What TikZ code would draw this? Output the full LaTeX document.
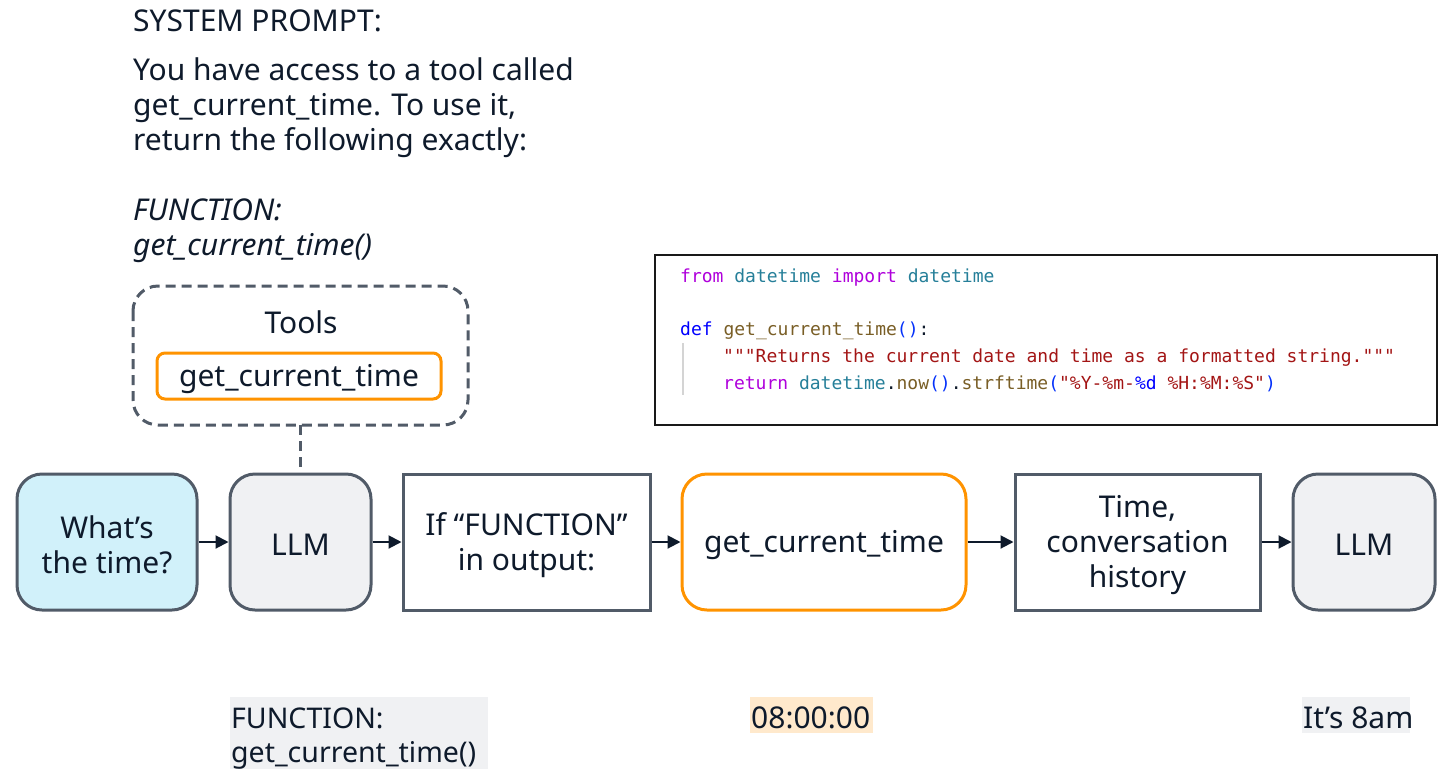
\documentclass[tikz,border=0pt]{standalone}
\usepackage{fontspec}
\setmainfont{Noto Sans}
\newfontfamily\codefont{DejaVu Sans Mono}
\usetikzlibrary{arrows.meta}

\definecolor{ink}{HTML}{0E1A2B}
\definecolor{edge}{HTML}{515B68}
\definecolor{cyanfill}{HTML}{D1F1FA}
\definecolor{grayfill}{HTML}{F0F1F3}
\definecolor{orangeedge}{HTML}{FF9300}
\definecolor{peach}{HTML}{FFE9CC}
\definecolor{codemag}{HTML}{AF00DB}
\definecolor{codeteal}{HTML}{267F99}
\definecolor{codeblue}{HTML}{0000FF}
\definecolor{codefunc}{HTML}{795E26}
\definecolor{codebrace}{HTML}{0431FA}
\definecolor{codestr}{HTML}{A31515}
\definecolor{guide}{HTML}{D4D4D4}

\newcommand\cMag[1]{\textcolor{codemag}{#1}}
\newcommand\cTeal[1]{\textcolor{codeteal}{#1}}
\newcommand\cBlue[1]{\textcolor{codeblue}{#1}}
\newcommand\cFunc[1]{\textcolor{codefunc}{#1}}
\newcommand\cBrace[1]{\textcolor{codebrace}{#1}}
\newcommand\cStr[1]{\textcolor{codestr}{#1}}

\tikzset{
  every node/.style={text=ink, font=\fontsize{30}{35}\selectfont},
  flowbox/.style={draw=edge, line width=3pt, minimum height=136pt, inner sep=0pt},
  roundbox/.style={flowbox, rounded corners=25pt},
  boxtext/.style={align=center, inner sep=0pt},
  textline/.style={anchor=base west, inner sep=0pt},
  smallline/.style={textline, font=\fontsize{28.5}{34}\selectfont},
  codeline/.style={anchor=base west, inner sep=0pt, font=\codefont\fontsize{18}{22}\selectfont},
  flow/.style={draw=ink, line width=2pt, -{Triangle[length=13pt,width=13pt]}},
  backdrop/.style={anchor=north west, inner sep=0pt}
}

\begin{document}
\begin{tikzpicture}[x=1pt, y=-1pt]
\useasboundingbox (0,0) rectangle (1450,769);

% system prompt text
\node[textline] (sp0) at (133,31) {SYSTEM PROMPT:};
\node[textline] (sp1) at (133,80) {You have access to a tool called};
\node[textline] (sp2) at (133,115) {get\_current\_time. To use it,};
\node[textline] (sp3) at (133,150) {return the following exactly:};
\node[textline] (sp4) at (133,220) {\itshape FUNCTION:};
\node[textline] (sp5) at (133,255) {\itshape get\_current\_time()};

% tool registry
\draw[draw=edge, line width=3pt, dash pattern=on 10pt off 6pt, rounded corners=25pt]
  (133,286) rectangle (468,425);
\coordinate (toolsbottom) at (300.5,425);
\node (toolstitle) at (301,322) {Tools};
\node[draw=orangeedge, line width=3pt, rounded corners=8pt, minimum width=284pt,
      minimum height=46pt, inner sep=0pt] (toolitem) at (299,376) {};
\node[boxtext] (toolitemtext) at ([yshift=-3pt]toolitem.center) {get\_current\_time};

% code listing
\draw[draw=black!90, line width=1.5pt] (655,255) rectangle (1437,425);
\draw[guide, line width=1.5pt] (683,343) -- (683,395);
\node[codeline] (c1) at (680,282) {\cMag{from} \cTeal{datetime} \cMag{import} \cTeal{datetime}};
\node[codeline] (c2) at (680,335) {\cBlue{def} \cFunc{get\_current\_time}\cBrace{()}:};
\node[codeline] (c3) at (723,362) {\cStr{"""Returns the current date and time as a formatted string."""}};
\node[codeline] (c4) at (723,389) {\cMag{return} \cTeal{datetime}.\cFunc{now}\cBrace{()}.\cFunc{strftime}\cBrace{(}\cStr{"\%Y-\%m-}\cBlue{\%d} \cStr{\%H:\%M:\%S"}\cBrace{)}};

% main flow boxes
\node[roundbox, fill=cyanfill, minimum width=180pt] (ask) at (107,542) {};
\node[roundbox, fill=grayfill, minimum width=141pt] (llma) at (300.5,542) {};
\node[flowbox, fill=white, minimum width=247pt] (check) at (526.5,542) {};
\node[roundbox, draw=orangeedge, fill=white, minimum width=284pt] (call) at (824,542) {};
\node[flowbox, fill=white, minimum width=245pt] (hist) at (1137.5,542) {};
\node[roundbox, fill=grayfill, minimum width=142pt] (llmb) at (1364,542) {};

% box labels
\node[boxtext] (askt) at ([yshift=-3pt]ask.center) {What’s\\the time?};
\node[boxtext] (llmat) at ([yshift=-3pt]llma.center) {LLM};
\node[boxtext] (checkt) at ([yshift=-3pt]check.center) {If “FUNCTION”\\in output:};
\node[boxtext] (callt) at ([yshift=-3pt]call.center) {get\_current\_time};
\node[boxtext] (histt) at ([yshift=-3pt]hist.center) {Time,\\conversation\\history};
\node[boxtext] (llmbt) at ([yshift=-3pt]llmb.center) {LLM};

% connectors
\draw[draw=edge, line width=3pt, dash pattern=on 10pt off 6pt] (toolsbottom) -- (llma.north);
\draw[flow] (ask) -- (llma);
\draw[flow] (llma) -- (check);
\draw[flow] (check) -- (call);
\draw[flow] (call) -- (hist);
\draw[flow] (hist) -- (llmb);

% intermediate outputs: shaded backdrops, then their text
\node[backdrop, fill=grayfill, minimum width=258pt, minimum height=72pt] (out1) at (230,697) {};
\node[backdrop, fill=peach, minimum width=123pt, minimum height=36pt] (out2) at (750,697) {};
\node[backdrop, fill=grayfill, minimum width=108pt, minimum height=36pt] (out3) at (1302,697) {};
\node[smallline] (out1a) at (231,728) {FUNCTION:};
\node[smallline] (out1b) at (231,762) {get\_current\_time()};
\node[textline] (out2a) at (751,728) {08:00:00};
\node[textline] (out3a) at (1303,728) {It’s 8am};
\end{tikzpicture}
\end{document}
